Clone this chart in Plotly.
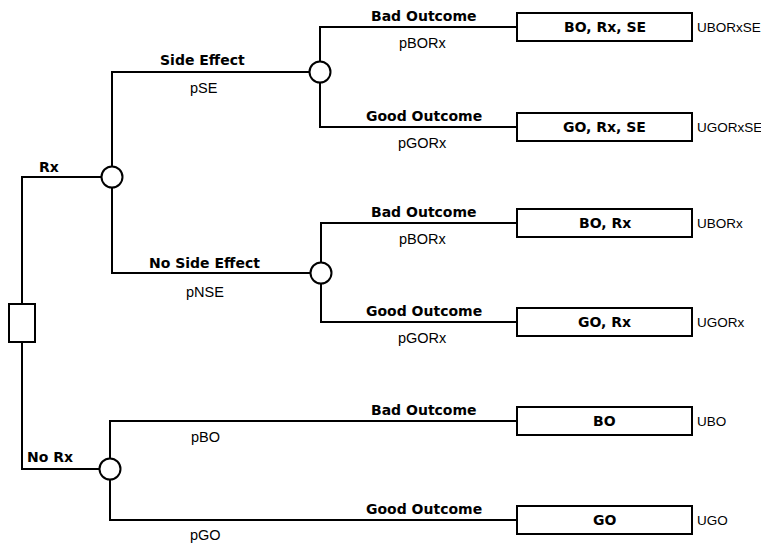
import plotly.graph_objects as go

# ---- data (labels of the decision tree) ----
decision_labels = ["Rx", "No Rx"]
side_labels = ["Side Effect", "No Side Effect"]
side_probs = ["pSE", "pNSE"]
outcome_labels = ["Bad Outcome", "Good Outcome"]
outcome_probs_rx = ["pBORx", "pGORx"]
outcome_probs_norx = ["pBO", "pGO"]
terminal_labels = ["BO, Rx, SE", "GO, Rx, SE", "BO, Rx", "GO, Rx", "BO", "GO"]
utility_labels = ["UBORxSE", "UGORxSE", "UBORx", "UGORx", "UBO", "UGO"]

# ---- layout geometry (pixel-like data units) ----
W, H = 769, 544
PAGE_MARGIN = 8  # default body margin of the html page
root = (22, 323)
root_half_w, root_half_h = 13, 19
rx_node = (112, 177)
norx_node = (110, 469)
se_node = (320, 72)
nse_node = (321, 273)
term_ys = [27, 127, 223, 322, 421, 520]
box_x0, box_x1, box_half_h = 517, 692, 14
util_x = 695

BOLD = dict(family="DejaVu Sans", size=14, color="black", weight="bold")
REG = dict(family="Liberation Sans, Arial", size=14.5, color="black")
UTIL = dict(family="Liberation Sans, Arial", size=13.5, color="black")

lx, ly = [], []
def seg(pts):
    for p in pts:
        lx.append(p[0]); ly.append(p[1])
    lx.append(None); ly.append(None)

# root to Rx / No Rx
seg([(root[0], root[1] - root_half_h), (root[0], rx_node[1]), rx_node])
seg([(root[0], root[1] + root_half_h), (root[0], norx_node[1]), norx_node])
# Rx to side-effect nodes
seg([se_node, (rx_node[0], se_node[1]), (rx_node[0], nse_node[1]), nse_node])
# chance nodes to terminals
chance_nodes = [se_node, nse_node, norx_node]
for i, node in enumerate(chance_nodes):
    y_bad, y_good = term_ys[2 * i], term_ys[2 * i + 1]
    seg([(box_x0, y_bad), (node[0], y_bad), (node[0], y_good), (box_x0, y_good)])

fig = go.Figure()
fig.add_trace(go.Scatter(x=lx, y=ly, mode="lines",
                         line=dict(color="black", width=2), hoverinfo="skip"))
fig.add_trace(go.Scatter(x=[n[0] for n in [rx_node, norx_node, se_node, nse_node]],
                         y=[n[1] for n in [rx_node, norx_node, se_node, nse_node]],
                         mode="markers", hoverinfo="skip",
                         marker=dict(size=21, color="white",
                                     line=dict(color="black", width=2))))

shapes = [dict(type="rect", xref="x", yref="y",
               x0=root[0] - root_half_w, x1=root[0] + root_half_w,
               y0=root[1] - root_half_h, y1=root[1] + root_half_h,
               line=dict(color="black", width=2), fillcolor="white")]
for y in term_ys:
    shapes.append(dict(type="rect", xref="x", yref="y",
                       x0=box_x0, x1=box_x1, y0=y - box_half_h, y1=y + box_half_h,
                       line=dict(color="black", width=2), fillcolor="white"))

ann = []
def txt(x, y, t, font, xanchor="center"):
    ann.append(dict(x=x, y=y, xref="x", yref="y", text=t, showarrow=False,
                    font=font, xanchor=xanchor, yanchor="middle"))

# decision branch labels
txt(49, rx_node[1] - 10, decision_labels[0], BOLD)
txt(50, norx_node[1] - 12, decision_labels[1], BOLD)
# side effect labels
txt(202, se_node[1] - 12, side_labels[0], BOLD)
txt(204, se_node[1] + 16, side_probs[0], REG)
txt(204, nse_node[1] - 10, side_labels[1], BOLD)
txt(205, nse_node[1] + 19, side_probs[1], REG)
# outcome labels
probs = outcome_probs_rx + outcome_probs_rx + outcome_probs_norx
for i, y in enumerate(term_ys):
    txt(424, y - 11, outcome_labels[i % 2], BOLD)
    px = 422 if i < 4 else 205
    py = y + 16 if i < 5 else y + 15
    txt(px, py, probs[i], REG)
    txt((box_x0 + box_x1) / 2, y, terminal_labels[i], BOLD)
    txt(util_x, y, utility_labels[i], UTIL, xanchor="left")

fig.update_layout(width=W - PAGE_MARGIN, height=H - PAGE_MARGIN,
                  margin=dict(l=0, r=0, t=0, b=0),
                  paper_bgcolor="white", plot_bgcolor="white", showlegend=False,
                  shapes=shapes, annotations=ann)
fig.update_xaxes(range=[PAGE_MARGIN, W], visible=False, fixedrange=True)
fig.update_yaxes(range=[H, PAGE_MARGIN], visible=False, fixedrange=True)
fig.write_html("out.html")
